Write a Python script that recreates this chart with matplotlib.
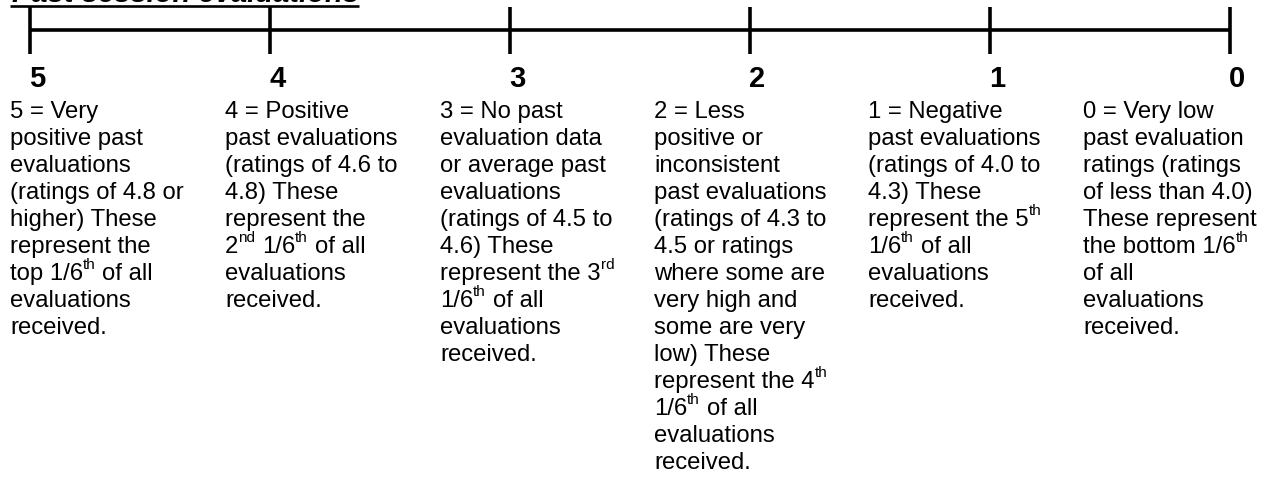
import matplotlib
matplotlib.use('Agg')
import matplotlib.pyplot as plt
from matplotlib import transforms


# rating scale, left to right on the line
scale_values = [5, 4, 3, 2, 1, 0]
title = 'Past session evaluations'

# wrapped description lines under each scale value; ^..^ marks a superscript
desc_5 = ['5 = Very', 'positive past', 'evaluations', '(ratings of 4.8 or',
          'higher) These', 'represent the', 'top 1/6^th^ of all',
          'evaluations', 'received.']
desc_4 = ['4 = Positive', 'past evaluations', '(ratings of 4.6 to',
          '4.8) These', 'represent the', '2^nd^ 1/6^th^ of all',
          'evaluations', 'received.']
desc_3 = ['3 = No past', 'evaluation data', 'or average past', 'evaluations',
          '(ratings of 4.5 to', '4.6) These', 'represent the 3^rd^',
          '1/6^th^ of all', 'evaluations', 'received.']
desc_2 = ['2 = Less', 'positive or', 'inconsistent', 'past evaluations',
          '(ratings of 4.3 to', '4.5 or ratings', 'where some are',
          'very high and', 'some are very', 'low) These',
          'represent the 4^th^', '1/6^th^ of all', 'evaluations', 'received.']
desc_1 = ['1 = Negative', 'past evaluations', '(ratings of 4.0 to',
          '4.3) These', 'represent the 5^th^', '1/6^th^ of all',
          'evaluations', 'received.']
desc_0 = ['0 = Very low', 'past evaluation', 'ratings (ratings',
          'of less than 4.0)', 'These represent', 'the bottom 1/6^th^',
          'of all', 'evaluations', 'received.']
descriptions = [desc_5, desc_4, desc_3, desc_2, desc_1, desc_0]

W, H = 1270, 482
FONT = 'Liberation Sans'
BODY_SIZE = 17.2
SUP_SIZE = 11
SUP_RAISE = 11      # px above the baseline
BIG_SIZE = 21
LINE_STEP = 27      # px between baselines
FIRST_BASELINE = 118
col_x = [10, 225, 440, 654, 868, 1083]

fig = plt.figure(figsize=(W / 100, H / 100), dpi=100)
fig.patch.set_facecolor('white')

# number line axes: x in rating units (5 on the left), y in pixels
scale_ax = fig.add_axes([0, 0, 1, 1])
scale_ax.set_xlim(5 + 30 / 240, 0 - 40 / 240)
scale_ax.set_ylim(H, 0)
scale_ax.axis('off')

scale_ax.hlines(30, max(scale_values), min(scale_values), color='black', lw=2.6)
scale_ax.vlines(scale_values, 7, 54, color='black', lw=2.6)
shift = transforms.offset_copy(scale_ax.transData, fig=fig, x=-1, y=0, units='dots')
for v in scale_values:
    scale_ax.text(v, 87, str(v), transform=shift, fontsize=BIG_SIZE, weight='bold',
                  family=FONT, ha='left', va='baseline')

# text axes: plain pixel coordinates
text_ax = fig.add_axes([0, 0, 1, 1])
text_ax.set_xlim(0, W)
text_ax.set_ylim(H, 0)
text_ax.axis('off')

renderer = fig.canvas.get_renderer()


def width_of(s, size, **kw):
    t = text_ax.text(0, 0, s, fontsize=size, family=FONT, **kw)
    w = t.get_window_extent(renderer).width
    t.remove()
    return w


space_w = width_of('a a', BODY_SIZE) - width_of('aa', BODY_SIZE)


def draw_line(x, y, line):
    parts = line.split('^')
    for i, part in enumerate(parts):
        if not part:
            continue
        sup = i % 2 == 1
        lead = len(part) - len(part.lstrip(' '))
        x += lead * space_w
        part = part.strip(' ')
        size = SUP_SIZE if sup else BODY_SIZE
        yy = y - SUP_RAISE if sup else y
        t = text_ax.text(x, yy, part, fontsize=size, family=FONT,
                         ha='left', va='baseline', color='black')
        x += t.get_window_extent(renderer).width


for cx, lines in zip(col_x, descriptions):
    for k, line in enumerate(lines):
        draw_line(cx, FIRST_BASELINE + k * LINE_STEP, line)

# heading, mostly cut off by the top edge, underlined
tx = 12
text_ax.text(tx, 2, title, fontsize=BIG_SIZE, weight='bold', style='italic',
             family=FONT, ha='left', va='baseline')
tw = width_of(title, BIG_SIZE, weight='bold', style='italic')
text_ax.plot([tx - 2, tx + tw], [5.5, 5.5], color='black', lw=1.9,
             solid_capstyle='butt')

fig.savefig('out.png', dpi=100, facecolor='white')
